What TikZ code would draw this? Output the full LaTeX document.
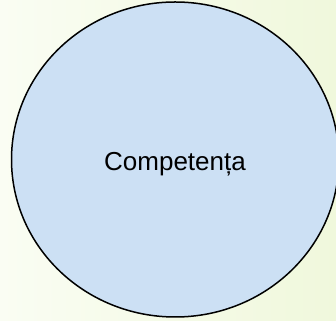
\documentclass[tikz,border=0pt]{standalone}
\usepackage{fontspec}
\setmainfont{Liberation Sans}
\definecolor{bgleft}{RGB}{250,253,243}
\definecolor{bgright}{RGB}{240,248,220}
\definecolor{ellfill}{RGB}{204,224,244}
\tikzset{
  bubble/.style={draw=black, line width=1.5pt, fill=ellfill},
  label/.style={font=\fontsize{26}{30}\selectfont, text=black, inner sep=0pt}
}
\begin{document}
\begin{tikzpicture}[x=1pt,y=1pt]
\useasboundingbox (0,0) rectangle (336,320);
\clip (0,0) rectangle (336,320);
\shade[left color=bgleft, right color=bgright] (0,0) rectangle (336,320);
\path[bubble] (175.2,160.5) ellipse [x radius=163.7, y radius=157.5];
\node[label, anchor=base] (t) at (175,149) {Competența};
\end{tikzpicture}
\end{document}
